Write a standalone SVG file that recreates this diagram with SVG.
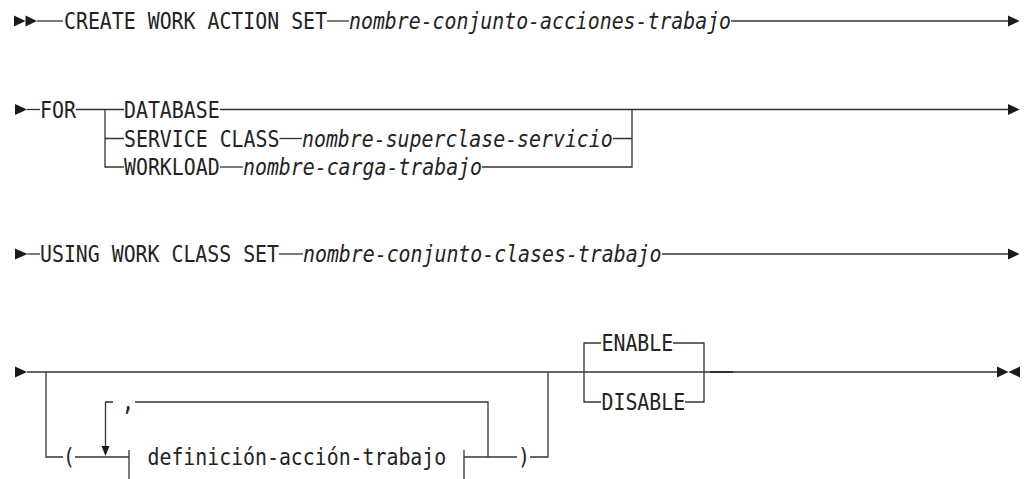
<svg xmlns="http://www.w3.org/2000/svg" width="1024" height="479" viewBox="0 0 1024 479">
<style>
text{font-family:"DejaVu Sans Mono","Liberation Mono",monospace;font-size:23px;fill:#232323}
.v{font-style:italic}
.c line,.c path.l{stroke:#333;stroke-width:1.3;fill:none}
.c path.a{fill:#1a1a1a;stroke:none}
</style>
<rect width="1024" height="479" fill="#fff"/>
<g id="connectors" class="c">
<!-- row 1 -->
<path class="a" d="M14,15.5 L25.5,21 L14,26.5 Z M25.5,15.5 L37,21 L25.5,26.5 Z"/>
<line x1="37" y1="21" x2="63" y2="21"/>
<line x1="327" y1="21" x2="349" y2="21"/>
<line x1="731" y1="21" x2="1008" y2="21"/>
<path class="a" d="M1008,15.5 L1019.5,21 L1008,26.5 Z"/>
<!-- row 2 -->
<path class="a" d="M15,104 L27,109.5 L15,115 Z"/>
<line x1="27" y1="109.5" x2="40" y2="109.5"/>
<line x1="76" y1="109.5" x2="124" y2="109.5"/>
<line x1="220" y1="109.5" x2="1008" y2="109.5"/>
<path class="a" d="M1008,104 L1019.5,109.5 L1008,115 Z"/>
<path class="l" d="M105,109.5 V167 H124 M105,138.5 H124"/>
<line x1="279.5" y1="138.5" x2="302" y2="138.5"/>
<path class="l" d="M613,138.5 H632 M632,109.5 V167 H482"/>
<line x1="220" y1="167" x2="243" y2="167"/>
<!-- row 3 -->
<path class="a" d="M15,248.5 L27.5,254 L15,259.5 Z"/>
<line x1="27.5" y1="254" x2="40" y2="254"/>
<line x1="279" y1="254" x2="303" y2="254"/>
<line x1="662" y1="254" x2="1008" y2="254"/>
<path class="a" d="M1008,248.5 L1019.5,254 L1008,259.5 Z"/>
<!-- row 4 -->
<path class="a" d="M15,366.5 L27,372 L15,377.5 Z"/>
<line x1="27" y1="372" x2="997" y2="372"/>
<line x1="710" y1="372" x2="733" y2="372" style="stroke-width:2"/>
<path class="a" d="M997,366.5 L1008.5,372 L997,377.5 Z M1020,366.5 L1008.5,372 L1020,377.5 Z"/>
<path class="l" d="M46,372 V457 H63"/>
<line x1="75" y1="457" x2="129" y2="457"/>
<path class="l" d="M105.5,446 V402 H113"/>
<path class="a" d="M101.5,446 L109.5,446 L105.5,456 Z"/>
<path class="l" d="M135,402 H488 V457"/>
<line x1="129" y1="450" x2="129" y2="479"/>
<line x1="464" y1="450" x2="464" y2="479"/>
<line x1="464" y1="457" x2="517" y2="457"/>
<path class="l" d="M530,457 H548 V372"/>
<path class="l" d="M601,343 H584 V402 H601"/>
<path class="l" d="M673,343 H704 V402 H685"/>
</g>
<g id="n-create"><text x="64" y="29.4" textLength="263" lengthAdjust="spacingAndGlyphs">CREATE WORK ACTION SET</text></g>
<g id="n-nombre-conjunto-acciones"><text class="v" x="349" y="29.4" textLength="382" lengthAdjust="spacingAndGlyphs">nombre-conjunto-acciones-trabajo</text></g>
<g id="n-for"><text x="40" y="117.9" textLength="36" lengthAdjust="spacingAndGlyphs">FOR</text></g>
<g id="n-database"><text x="124" y="117.9" textLength="95.6" lengthAdjust="spacingAndGlyphs">DATABASE</text></g>
<g id="n-service-class"><text x="124" y="146.9" textLength="155.4" lengthAdjust="spacingAndGlyphs">SERVICE CLASS</text></g>
<g id="n-nombre-superclase"><text class="v" x="302" y="146.9" textLength="310.7" lengthAdjust="spacingAndGlyphs">nombre-superclase-servicio</text></g>
<g id="n-workload"><text x="124" y="175.4" textLength="95.6" lengthAdjust="spacingAndGlyphs">WORKLOAD</text></g>
<g id="n-nombre-carga"><text class="v" x="243" y="175.4" textLength="239" lengthAdjust="spacingAndGlyphs">nombre-carga-trabajo</text></g>
<g id="n-using"><text x="40" y="262.4" textLength="239" lengthAdjust="spacingAndGlyphs">USING WORK CLASS SET</text></g>
<g id="n-nombre-conjunto-clases"><text class="v" x="303" y="262.4" textLength="358.5" lengthAdjust="spacingAndGlyphs">nombre-conjunto-clases-trabajo</text></g>
<g id="n-lparen"><text x="63" y="465.4" textLength="12" lengthAdjust="spacingAndGlyphs">(</text></g>
<g id="n-comma"><text x="121.5" y="410.4" style="font-size:27px" textLength="13" lengthAdjust="spacingAndGlyphs">,</text></g>
<g id="n-definicion"><text x="147.5" y="465.4" textLength="298.7" lengthAdjust="spacingAndGlyphs">definición-acción-trabajo</text></g>
<g id="n-rparen"><text x="518" y="465.4" textLength="12" lengthAdjust="spacingAndGlyphs">)</text></g>
<g id="n-enable"><text x="601.5" y="351.4" textLength="71.7" lengthAdjust="spacingAndGlyphs">ENABLE</text></g>
<g id="n-disable"><text x="601.5" y="410.4" textLength="83.6" lengthAdjust="spacingAndGlyphs">DISABLE</text></g>
</svg>
